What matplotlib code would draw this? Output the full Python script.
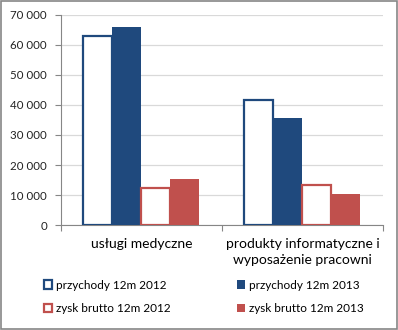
import matplotlib.pyplot as plt
import numpy as np
from matplotlib.patches import Rectangle
from matplotlib.ticker import FuncFormatter

plt.rcParams['font.family'] = ['Lato', 'DejaVu Sans']

categories = ["usługi medyczne", "produkty informatyczne i\nwyposażenie pracowni"]
series_names = ["przychody 12m 2012", "przychody 12m 2013",
                "zysk brutto 12m 2012", "zysk brutto 12m 2013"]
przychody_2012 = [63000, 41800]
przychody_2013 = [65800, 35500]
zysk_2012 = [12500, 13500]
zysk_2013 = [15200, 10300]

blue = "#1F497D"
red = "#C0504D"

fig = plt.figure(figsize=(3.98, 3.30), dpi=100)
ax = fig.add_axes([0.153, 0.318, 0.809, 0.637])

x = np.arange(len(categories))
w = 0.18
series = [przychody_2012, przychody_2013, zysk_2012, zysk_2013]
faces = ["white", blue, "white", red]
edges = [blue, blue, red, red]
handles = []
for i, vals in enumerate(series):
    b = ax.bar(x + (i - 1.5) * w, vals, w, color=faces[i], edgecolor=edges[i],
               linewidth=1.6 if faces[i] == "white" else 0, label=series_names[i],
               zorder=3)
    handles.append(b)

ax.set_xlim(-0.5, 1.5)
ax.set_ylim(0, 70000)
ax.set_yticks(np.arange(0, 70001, 10000))
ax.yaxis.set_major_formatter(FuncFormatter(lambda v, p: f"{int(v):,}".replace(",", " ")))
ax.set_xticks([-0.5, 0.5, 1.5])
ax.set_xticklabels([])
ax.set_xticks(x, minor=True)
ax.set_xticklabels(categories, minor=True, linespacing=1.45)
ax.tick_params(axis="x", which="minor", length=0, pad=9)
ax.tick_params(axis="x", which="major", length=4, color="#868686")
ax.tick_params(axis="y", length=4, color="#868686", pad=6)
ax.tick_params(labelsize=8.3, labelcolor="#222222")
ax.grid(axis="y", color="#D9D9D9", linewidth=0.9, zorder=0)
for s in ["top", "right"]:
    ax.spines[s].set_visible(False)
for s in ["left", "bottom"]:
    ax.spines[s].set_color("#868686")

# row-major order in a two-column legend
order = [0, 2, 1, 3]
fig.legend(handles=[handles[k] for k in order], loc="upper left",
           bbox_to_anchor=(0.11, 0.153), ncol=2, frameon=False, fontsize=8.5,
           handlelength=0.7, handleheight=0.7, handletextpad=0.35,
           columnspacing=5.6, labelspacing=1.05, borderaxespad=0, borderpad=0)

fig.patches.append(Rectangle((0.002, 0.003), 0.995, 0.994, transform=fig.transFigure,
                             fill=False, edgecolor="#868686", linewidth=1.2))

fig.savefig("out.png", dpi=100)
